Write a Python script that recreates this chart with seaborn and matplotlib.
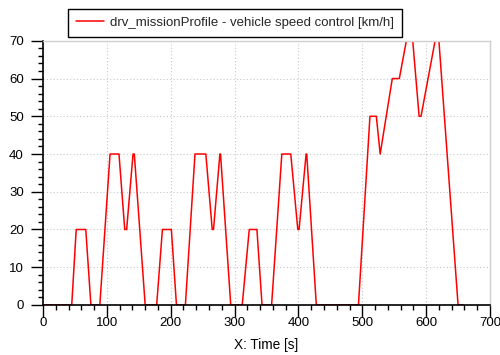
import matplotlib
matplotlib.use("Agg")
import matplotlib.pyplot as plt
import seaborn as sns
import pandas as pd
from matplotlib.ticker import MultipleLocator

# Breakpoints (time [s], speed [km/h])
time_s = [0, 45, 52, 67, 75, 89, 105, 119, 128, 131, 141, 143, 160, 178, 187, 201, 209,
          223, 238, 255, 265, 267, 277, 278, 294, 312, 323, 335, 343, 358, 374, 388, 399,
          401, 412, 413, 428, 494, 512, 522, 528, 547, 558, 569, 579, 589, 592, 614, 620,
          650, 658]
speed_kmh = [0, 0, 20, 20, 0, 0, 40, 40, 20, 20, 40, 40, 0, 0, 20, 20, 0,
             0, 40, 40, 20, 20, 40, 40, 0, 0, 20, 20, 0, 0, 40, 40, 20,
             20, 40, 40, 0, 0, 50, 50, 40, 60, 60, 70, 70, 50, 50, 70, 70,
             0, 0]
series_label = "drv_missionProfile - vehicle speed control [km/h]"
x_label = "X: Time [s]"

df = pd.DataFrame({"t": time_s, "v": speed_kmh, "series": series_label})

sns.set_theme(style="white")
plt.rcParams["font.family"] = ["Liberation Sans", "DejaVu Sans"]

fig = plt.figure(figsize=(5, 3.55), dpi=100)
ax = fig.add_axes([0.086, 0.141, 0.894, 0.744])

sns.lineplot(data=df, x="t", y="v", hue="series", palette=["#ff0000"], sort=False,
             estimator=None, linewidth=1.1, ax=ax, legend=True)

ax.set_xlim(0, 700)
ax.set_ylim(0, 70)
ax.xaxis.set_major_locator(MultipleLocator(100))
ax.xaxis.set_minor_locator(MultipleLocator(20))
ax.yaxis.set_major_locator(MultipleLocator(10))
ax.yaxis.set_minor_locator(MultipleLocator(2))
ax.grid(True, which="major", color="#c8c8c8", linestyle=(0, (1, 2)), linewidth=0.8)
ax.tick_params(axis="both", which="major", direction="out", length=8.3, width=1,
               color="black", labelsize=9.5, labelcolor="black",
               bottom=True, left=True)
ax.tick_params(axis="both", which="minor", direction="out", length=3.6, width=1,
               color="black", bottom=True, left=True)
ax.tick_params(axis="x", which="major", pad=0.5)
ax.tick_params(axis="y", which="major", pad=5.5)

for s in ["left", "bottom"]:
    ax.spines[s].set_color("black")
    ax.spines[s].set_linewidth(1.2)
for s in ["top", "right"]:
    ax.spines[s].set_color("#d0d0d0")
    ax.spines[s].set_linewidth(1.0)

ax.set_xlabel(x_label, fontsize=9.8, color="black", labelpad=6)
ax.set_ylabel("")

leg = ax.legend(loc="lower left", bbox_to_anchor=(0.056, 1.015), borderaxespad=0,
                frameon=True, fancybox=False, fontsize=9.5, handlelength=2.1,
                borderpad=0.6, handletextpad=0.5)
leg.get_frame().set_edgecolor("black")
leg.get_frame().set_linewidth(1.0)
leg.get_frame().set_alpha(1)

fig.savefig("out.png", dpi=100)
